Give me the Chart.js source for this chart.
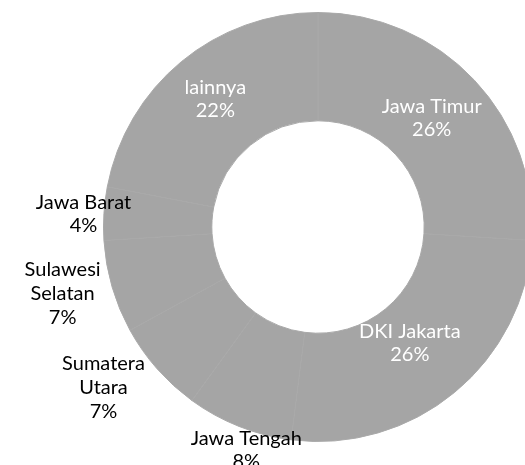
<!DOCTYPE html>
<html>
<head>
<meta charset="utf-8">
<script src="https://cdn.jsdelivr.net/npm/chart.js@4/dist/chart.umd.min.js"></script>
<style>
  html, body { margin: 0; padding: 0; background: #fff; overflow: hidden; }
  #wrap { width: 545px; height: 465px; position: relative; }
</style>
</head>
<body>
<div id="wrap"><canvas id="chartProvinsi"></canvas></div>
<script>
const provinsi = ['Jawa Timur', 'DKI Jakarta', 'Jawa Tengah', 'Sumatera Utara', 'Sulawesi Selatan', 'Jawa Barat', 'lainnya'];
const persen = [26, 26, 8, 7, 7, 4, 22];

// label placement: radius factor (of outer radius), angle shift (deg), line break
const labelRadius = [0.733, 0.689, 1.094, 1.249, 1.231, 1.095, 0.764];
const labelShift = [-0.5, 1.2, -3.8, 4.6, 1.5, -0.4, 0.8];
const labelWrap = [false, false, false, true, true, false, false];

const labelPlugin = {
    id: 'labelProvinsi',
    afterDatasetsDraw(chart) {
        const ctx = chart.ctx;
        const meta = chart.getDatasetMeta(0);
        const total = persen.reduce((a, b) => a + b, 0);
        ctx.save();
        ctx.font = '20px Lato';
        ctx.textAlign = 'center';
        ctx.textBaseline = 'middle';
        meta.data.forEach((arc, i) => {
            const p = arc.getProps(['x', 'y', 'startAngle', 'endAngle', 'outerRadius'], true);
            const mid = (p.startAngle + p.endAngle) / 2 + labelShift[i] * Math.PI / 180;
            const r = p.outerRadius * labelRadius[i];
            const cx = p.x + Math.cos(mid) * r;
            const cy = p.y + Math.sin(mid) * r;
            const nama = labelWrap[i] ? provinsi[i].split(' ') : [provinsi[i]];
            const lines = nama.concat([Math.round(persen[i] / total * 100) + '%']);
            const lh = lines.length > 2 ? 24 : 23;
            const y0 = cy - (lines.length - 1) * lh / 2;
            ctx.fillStyle = labelRadius[i] < 1 ? '#ffffff' : '#000000';
            lines.forEach((t, j) => ctx.fillText(t, cx, y0 + j * lh));
        });
        ctx.restore();
    }
};

new Chart(document.getElementById('chartProvinsi'), {
    type: 'doughnut',
    data: {
        labels: provinsi,
        datasets: [{
            data: persen,
            backgroundColor: '#a5a5a5',
            borderColor: '#a9a9a9',
            borderWidth: 1
        }]
    },
    options: {
        responsive: true,
        maintainAspectRatio: false,
        animation: false,
        cutout: '49.5%',
        layout: { padding: { left: 103, right: 12, top: 12, bottom: 23 } },
        plugins: { legend: { display: false }, tooltip: { enabled: false } }
    },
    plugins: [labelPlugin]
});
</script>
</body>
</html>
